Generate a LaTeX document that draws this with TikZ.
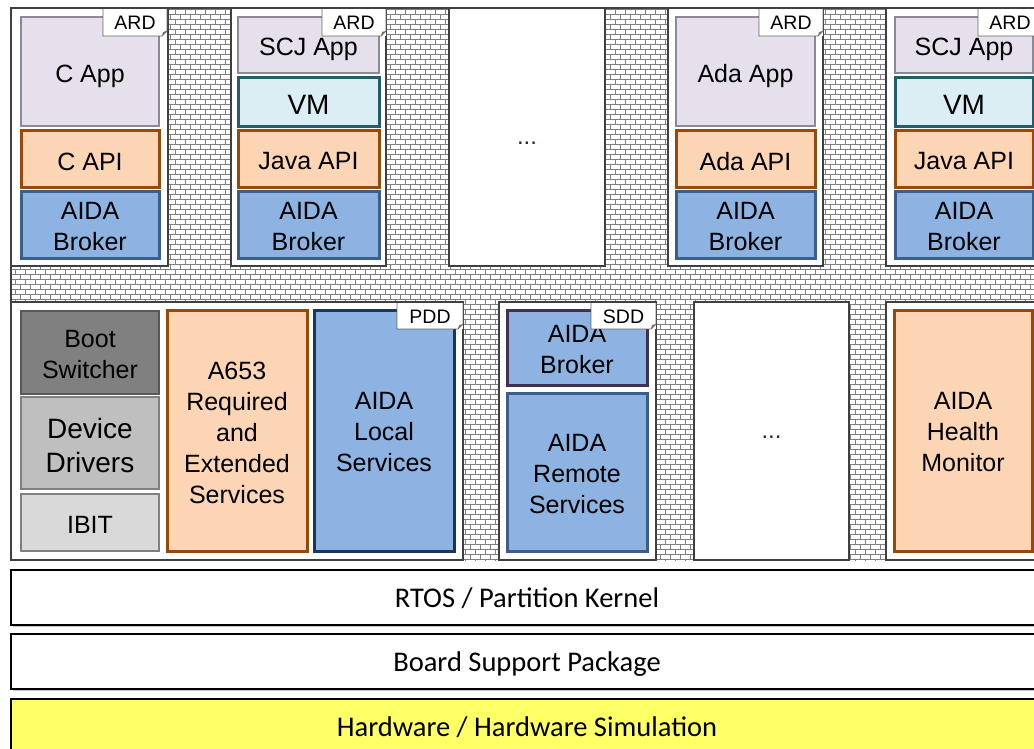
\documentclass[tikz,border=0pt]{standalone}
\usepackage{fontspec}
\setmainfont{Liberation Sans}
\newfontfamily\barfont{Carlito}
\usetikzlibrary{patterns.meta,shadows}

\definecolor{appfill}{HTML}{E5E0EC}
\definecolor{appline}{HTML}{8C8799}
\definecolor{apifill}{HTML}{FCD5B5}
\definecolor{apiline}{HTML}{984807}
\definecolor{brkfill}{HTML}{8DB3E2}
\definecolor{brkline}{HTML}{3A5F8C}
\definecolor{vmfill}{HTML}{DAEEF3}
\definecolor{vmline}{HTML}{245D66}
\definecolor{lsline}{HTML}{17375E}
\definecolor{sbline}{HTML}{403152}
\definecolor{hwfill}{HTML}{FFFF66}
\definecolor{mortar}{HTML}{808080}
\definecolor{frameline}{HTML}{404040}
\definecolor{dotcolor}{HTML}{1F2A55}

% brick wall filling the space between partitions
\tikzdeclarepattern{
  name=brickwall,
  bounding box={(-1pt,-1pt) and (11pt,11pt)},
  tile size={(10pt,10pt)},
  code={
    \pgfsetlinewidth{0.8pt}
    \draw (-1pt,0pt) -- (11pt,0pt) (-1pt,5pt) -- (11pt,5pt)
          (0pt,0pt) -- (0pt,5pt) (5pt,5pt) -- (5pt,10pt);
  }
}

% an empty box given by its corners: name, style, x1, y1, x2, y2
\newcommand\layerbox[6]{%
  \pgfmathsetmacro\lbw{#5-#3}\pgfmathsetmacro\lbh{#6-#4}%
  \node[#2, minimum width=\lbw pt, minimum height=\lbh pt] (#1)
    at ({(#3+#5)/2},{(#4+#6)/2}) {};}

% a box with a centred caption: [caption options] name, style, x1, y1, x2, y2, text
\newcommand\textbox[8][]{%
  \layerbox{#2}{#3}{#4}{#5}{#6}{#7}%
  \node[#3, draw=none, fill=none, #1] (#2-label) at ([yshift=-2pt]#2.center) {#8};}

% a partition label with a folded corner
\newcommand\partlabel[6]{%
  \layerbox{#1}{tag}{#2}{#3}{#4}{#5}%
  \node[tagtext] (#1-label) at ([yshift=-0.5pt]#1.center) {#6};
  \draw[tagline] (#1.north west) -- (#1.south west) -- ([xshift=-5pt]#1.south east)
    -- ([yshift=5pt]#1.south east) -- (#1.north east);
  \fill[black!55] ([xshift=-5pt]#1.south east) -- ([yshift=5pt]#1.south east)
    -- ([xshift=-4pt,yshift=4pt]#1.south east) -- cycle;}

\begin{document}
\begin{tikzpicture}[x=1pt,y=-1pt,
  every node/.style={inner sep=0pt, outer sep=0pt},
  boxfont/.style={font=\fontsize{25}{31}\selectfont, align=center},
  part/.style={draw=frameline, line width=1.2pt, fill=white},
  app/.style={boxfont, draw=appline, line width=1.3pt, fill=appfill},
  api/.style={boxfont, draw=apiline, line width=3pt, fill=apifill},
  broker/.style={boxfont, draw=brkline, line width=3pt, fill=brkfill},
  vm/.style={font=\fontsize{28}{31}\selectfont, draw=vmline, line width=3pt, fill=vmfill},
  boot/.style={boxfont, draw=black!65, line width=1.5pt, fill=black!50},
  driver/.style={font=\fontsize{28}{34}\selectfont, align=center, draw=black!50, line width=1.5pt, fill=black!25},
  ibit/.style={boxfont, draw=black!50, line width=1.5pt, fill=black!15},
  local/.style={boxfont, draw=lsline, line width=3pt, fill=brkfill},
  sdbroker/.style={boxfont, draw=sbline, line width=3pt, fill=brkfill},
  tag/.style={fill=white},
  tagtext/.style={font=\fontsize{19.5}{20}\selectfont},
  tagline/.style={draw=black!60, line width=0.8pt},
  dots/.style={font=\fontsize{24}{24}\selectfont, text=dotcolor},
  nodesc/.style={text depth=0pt},
  bar/.style={draw=black, line width=2pt, fill=white,
    drop shadow={shadow xshift=1.5pt, shadow yshift=-1.5pt, fill=black!40, opacity=0.6}},
  bartext/.style={font=\barfont\fontsize{28.5}{30}\selectfont, text depth=0pt},
]
\useasboundingbox (0,0) rectangle (1034,749);
\clip (0,0) rectangle (1034,749);
\fill[white] (0,0) rectangle (1034,749);

% partitioned area
\layerbox{wall}{pattern=brickwall, pattern color=mortar}{11}{8}{1045}{560}
\draw[frameline, line width=1.2pt] (wall.south west) -- (wall.north west) -- (wall.north east);

% application partitions
\layerbox{p1}{part}{11}{8}{168}{266}
\layerbox{p2}{part}{231}{8}{386}{266}
\layerbox{p3}{part}{449}{8}{605}{266}
\layerbox{p4}{part}{668}{8}{823}{266}
\layerbox{p5}{part}{886}{8}{1045}{266}

% system partitions
\layerbox{q1}{part}{11}{302}{463}{560}
\layerbox{q2}{part}{499}{302}{656}{560}
\layerbox{q3}{part}{694}{302}{849}{560}
\layerbox{q4}{part}{886}{302}{1045}{560}

% C partition
\textbox[nodesc]{capp}{app}{21}{17}{159}{126}{C App}
\textbox{capi}{api}{21}{131}{159}{188}{C API}
\textbox{cbrk}{broker}{21}{192}{159}{258}{AIDA\\Broker}

% first SCJ partition
\textbox[nodesc]{sapp}{app}{238}{17}{379}{73}{SCJ App}
\textbox{svm}{vm}{238}{78}{379}{127}{VM}
\textbox{sapi}{api}{238}{131}{379}{188}{Java API}
\textbox{sbrk}{broker}{238}{192}{379}{258}{AIDA\\Broker}

% placeholder partition
\node[dots] (pdots) at ([yshift=-6pt]p3.center) {...};

% Ada partition
\textbox[nodesc]{aapp}{app}{676}{17}{815}{126}{Ada App}
\textbox{aapi}{api}{676}{131}{815}{188}{Ada API}
\textbox{abrk}{broker}{676}{192}{815}{258}{AIDA\\Broker}

% second SCJ partition
\textbox[nodesc]{tapp}{app}{895}{17}{1033}{73}{SCJ App}
\textbox{tvm}{vm}{895}{78}{1033}{127}{VM}
\textbox{tapi}{api}{895}{131}{1033}{188}{Java API}
\textbox{tbrk}{broker}{895}{192}{1033}{258}{AIDA\\Broker}

% platform partition
\textbox{boot}{boot}{21}{311}{159}{394}{Boot\\Switcher}
\textbox{drv}{driver}{21}{397}{159}{489}{Device\\Drivers}
\textbox{ibit}{ibit}{21}{494}{159}{551}{IBIT}
\textbox{a653}{api}{167}{310}{307}{551}{A653\\Required\\and\\Extended\\Services}
\textbox{lsvc}{local}{314}{310}{454}{551}{AIDA\\Local\\Services}

% system service partition
\textbox{rbrk}{sdbroker}{507}{310}{647}{385}{AIDA\\Broker}
\textbox{rsvc}{broker}{507}{393}{647}{551}{AIDA\\Remote\\Services}

% placeholder system partition
\node[dots] (qdots) at ([yshift=-6pt]q3.center) {...};

% health monitor partition
\textbox{hmon}{api}{894}{310}{1032}{551}{AIDA\\Health\\Monitor}

% partition labels
\partlabel{t1}{103}{9}{167}{36}{ARD}
\partlabel{t2}{322}{9}{386}{36}{ARD}
\partlabel{t4}{759}{9}{823}{36}{ARD}
\partlabel{t5}{978}{9}{1042}{36}{ARD}
\partlabel{tp}{397}{303}{463}{329}{PDD}
\partlabel{ts}{591}{303}{656}{329}{SDD}

% platform layers
\layerbox{rtos}{bar}{11}{570}{1045}{625}
\layerbox{bsp}{bar}{11}{634}{1045}{689}
\layerbox{hw}{bar, fill=hwfill}{11}{699}{1045}{765}
\node[bartext] (rtos-label) at (527,597.5) {RTOS / Partition Kernel};
\node[bartext] (bsp-label) at (527,661.5) {Board Support Package};
\node[bartext] (hw-label) at (527,726.5) {Hardware / Hardware Simulation};
\end{tikzpicture}
\end{document}
